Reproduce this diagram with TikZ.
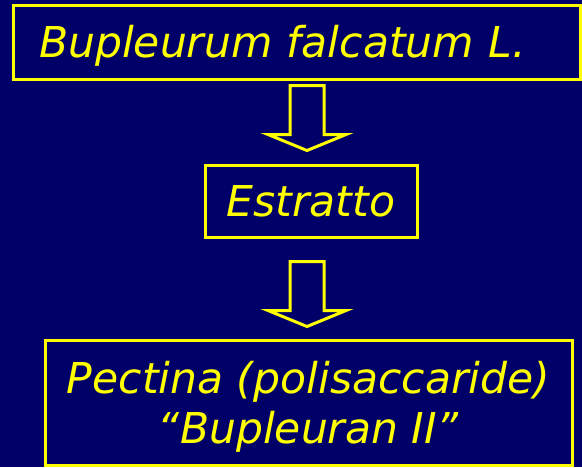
\documentclass[tikz,border=0pt]{standalone}
\usepackage{fontspec}
\setmainfont{DejaVu Sans}
\definecolor{slidebg}{RGB}{0,0,104}
\definecolor{slideyellow}{RGB}{255,255,0}

\begin{document}
\begin{tikzpicture}[x=1pt, y=-1pt,
    box/.style={draw=slideyellow, line width=3pt, text=slideyellow, inner sep=0pt,
        font=\fontsize{42.5}{50}\selectfont\itshape, text height=31pt, text depth=0pt},
    downarrow/.pic={\draw[slideyellow, line width=3pt]
        (-17,0) -- (17,0) -- (17,49) -- (39,49) -- (0,65) -- (-39,49) -- (-17,49) -- cycle;}]
    % Background
    \useasboundingbox (0,0) rectangle (582,467);
    \fill[slidebg] (0,0) rectangle (582,467);

    % Boxes
    \node[box, text width=515pt, inner xsep=26pt, minimum height=74pt, align=left] (plant) at (296.5,42) {Bupleurum falcatum L.};
    \node[box, minimum width=212pt, minimum height=72pt] (extract) at (311,201) {Estratto};
    \node[box, minimum width=527pt, minimum height=125pt, align=center, text height=81pt] (pectin) at (308.5,402.5) {Pectina (polisaccaride)\\“Bupleuran II”};

    % Arrows
    \pic (arr1) at (307,85.5) {downarrow};
    \pic (arr2) at (307,261.5) {downarrow};
\end{tikzpicture}
\end{document}
